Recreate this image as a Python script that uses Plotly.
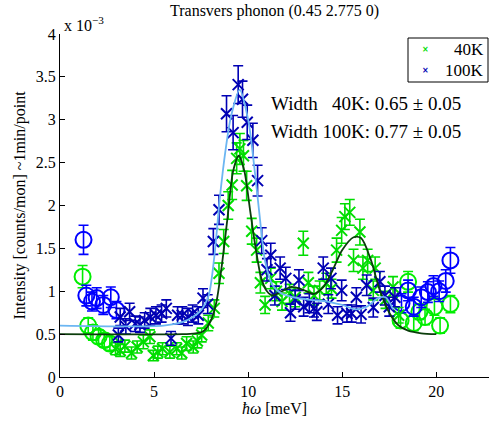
import plotly.graph_objects as go

# ---------------- data (intensity in units of 1e-3) ----------------
# 40K, circles (low and high energy)
g_circ_x = [1.2, 1.5, 1.75, 2.05, 2.35, 2.65, 18.1, 18.5, 18.8, 19.1, 19.4, 19.9, 20.2, 20.75]
g_circ_y = [1.17, 0.60, 0.52, 0.47, 0.43, 0.39, 0.66, 1.11, 0.63, 0.76, 0.70, 0.82, 0.60, 0.85]
g_circ_e = [0.13, 0.09, 0.09, 0.08, 0.08, 0.08, 0.09, 0.12, 0.09, 0.09, 0.09, 0.10, 0.09, 0.10]

# 100K, circles
b_circ_x = [1.25, 1.4, 1.7, 1.95, 2.3, 2.7, 3.0, 18.15, 18.5, 18.8, 19.2, 19.55, 19.85, 20.15, 20.5, 20.75]
b_circ_y = [1.60, 0.95, 0.88, 0.92, 0.84, 0.93, 0.78, 0.86, 1.01, 0.82, 0.93, 0.99, 1.06, 1.00, 1.12, 1.36]
b_circ_e = [0.17, 0.12, 0.11, 0.12, 0.11, 0.12, 0.10, 0.11, 0.12, 0.11, 0.12, 0.12, 0.12, 0.12, 0.13, 0.15]

# 40K, crosses
g_x_x = [2.95, 3.2, 3.45, 3.8, 4.1, 4.43, 4.78, 4.96, 5.2, 5.45, 5.84, 6.2, 6.47, 6.73, 7.08, 7.3,
         7.53, 7.88, 8.2, 8.45, 8.7, 8.94, 9.15, 9.39, 9.56, 9.75, 9.92, 10.19, 10.45, 10.65, 10.9,
         11.2, 11.5, 11.8, 12.2, 12.5, 12.93, 13.2, 13.5, 13.8, 14.15, 14.43, 14.7, 14.97, 15.14,
         15.4, 15.6, 15.94, 16.1, 16.35, 16.65, 16.75, 17.3, 17.7, 18.0]
g_x_y = [0.33, 0.31, 0.36, 0.28, 0.35, 0.41, 0.47, 0.25, 0.29, 0.33, 0.29, 0.33, 0.28, 0.39, 0.35, 0.42,
         0.49, 0.63, 0.80, 1.21, 1.58, 2.00, 2.24, 2.55, 2.66, 2.58, 2.23, 1.70, 1.48, 1.10, 0.84,
         1.15, 1.00, 0.88, 0.97, 0.93, 1.56, 1.10, 0.95, 1.01, 1.09, 1.03, 1.48, 1.71, 1.87,
         1.92, 1.36, 1.69, 1.27, 1.36, 1.01, 1.27, 0.90, 1.05, 0.72]
g_x_e = [0.07, 0.07, 0.07, 0.07, 0.07, 0.08, 0.08, 0.06, 0.07, 0.07, 0.07, 0.07, 0.07, 0.08, 0.07, 0.08,
         0.08, 0.09, 0.10, 0.12, 0.14, 0.16, 0.17, 0.18, 0.18, 0.18, 0.17, 0.15, 0.14, 0.12, 0.10,
         0.12, 0.11, 0.10, 0.11, 0.11, 0.14, 0.12, 0.11, 0.11, 0.12, 0.11, 0.14, 0.15, 0.15,
         0.15, 0.13, 0.15, 0.13, 0.13, 0.11, 0.13, 0.10, 0.12, 0.09]

# 100K, crosses
b_x_x = [3.1, 3.2, 3.5, 3.7, 4.0, 4.25, 4.5, 4.8, 5.1, 5.4, 5.65, 5.9, 6.25, 6.5, 6.8, 7.05, 7.35,
         7.6, 7.85, 8.15, 8.45, 8.85, 9.2, 9.47, 9.7, 9.95, 10.25, 10.5, 10.72, 11.0, 11.2, 11.42,
         11.7, 12.0, 12.25, 12.5, 12.7, 12.95, 13.25, 13.5, 13.65, 13.99, 14.26, 14.4, 14.75, 14.97,
         15.25, 15.5, 15.75, 16.0, 16.3, 16.65, 17.0, 17.27, 17.5, 17.8]
b_x_y = [0.49, 0.70, 0.59, 0.76, 0.62, 0.61, 0.66, 0.70, 0.72, 0.74, 0.80, 0.45, 0.72, 0.72, 0.70, 0.74, 0.72,
         0.92, 0.85, 1.58, 1.95, 3.07, 2.85, 3.41, 3.24, 2.97, 2.76, 2.29, 1.59, 1.25, 1.42, 0.95,
         1.27, 1.15, 0.75, 0.90, 1.13, 0.82, 0.86, 0.80, 0.76, 1.27, 0.85, 1.15, 0.72, 1.01,
         0.74, 0.74, 0.93, 0.73, 1.07, 0.81, 1.11, 0.95, 0.82, 0.93]
b_x_e = [0.08, 0.10, 0.09, 0.10, 0.09, 0.09, 0.09, 0.10, 0.10, 0.10, 0.10, 0.08, 0.10, 0.10, 0.10, 0.10, 0.10,
         0.11, 0.11, 0.15, 0.17, 0.21, 0.20, 0.22, 0.21, 0.20, 0.20, 0.18, 0.15, 0.13, 0.14, 0.11,
         0.13, 0.13, 0.10, 0.11, 0.12, 0.11, 0.11, 0.10, 0.10, 0.13, 0.11, 0.12, 0.10, 0.12,
         0.10, 0.10, 0.11, 0.10, 0.12, 0.11, 0.12, 0.11, 0.11, 0.11]

# fitted curves
fit40_x = [0, 6.5, 7.2, 7.6, 8.0, 8.3, 8.6, 8.9, 9.2, 9.5, 9.8, 10.1, 10.4, 10.7, 11.0, 11.3, 11.8,
           12.3, 12.9, 13.5, 14.0, 14.5, 15.0, 15.6, 16.0, 16.5, 17.0, 17.5, 18.0, 18.5, 19.2, 20.0]
fit40_y = [0.5, 0.5, 0.51, 0.53, 0.65, 0.86, 1.3, 1.85, 2.4, 2.58, 2.4, 1.95, 1.5, 1.15, 1.0, 0.95, 1.0,
           1.05, 1.02, 0.97, 1.05, 1.25, 1.48, 1.63, 1.62, 1.38, 1.01, 0.75, 0.6, 0.54, 0.51, 0.5]
fit100_x = [0, 5.5, 6.5, 7.0, 7.5, 7.9, 8.2, 8.5, 8.8, 9.1, 9.55, 10.0, 10.3, 10.6, 10.9, 11.3, 11.8,
            12.4, 13.3, 14.2, 15.0, 15.7, 16.3, 16.9, 17.3, 17.7]
fit100_y = [0.6, 0.6, 0.64, 0.69, 0.78, 0.95, 1.4, 2.1, 2.65, 3.05, 3.35, 3.0, 2.5, 1.9, 1.35, 1.07, 0.97,
            0.93, 0.9, 0.88, 0.84, 0.79, 0.82, 0.92, 0.93, 0.79]

title_text = "Transvers phonon (0.45 2.775 0)"
x_title = "<i>ħω</i> [meV]"
y_title = "Intensity [counts/mon] ~1min/point"
x_ticks = [0, 5, 10, 15, 20]
y_ticks = [0, 0.5, 1, 1.5, 2, 2.5, 3, 3.5, 4]
y_ticklabels = ["0", "0.5", "1", "1.5", "2", "2.5", "3", "3.5", "4"]
legend_names = ["40K", "100K"]
width_lines = ["Width \u200740K: 0.65 \u00b1 0.05", "Width 100K: 0.77 \u00b1 0.05"]

# ---------------- styles ----------------
GREEN = "#00ee00"
GREEN_X = "#00dd00"
BLUE = "#0000ff"
BLUE_X = "#0000b4"
DKGREEN = "#0b3d0b"
LTBLUE = "#6cb6f2"
FONT = "'Liberation Serif', 'Times New Roman', Times, serif"

fig = go.Figure()


def add_points(x, y, e, color, symbol, size, lw, cap):
    fig.add_trace(go.Scatter(
        x=x, y=y, mode="markers", showlegend=False, cliponaxis=False,
        marker=dict(symbol=symbol, size=size, color=color,
                    line=dict(color=color, width=lw)),
        error_y=dict(type="data", array=e, visible=True, color=color,
                     thickness=1.6, width=cap),
    ))


add_points(g_circ_x, g_circ_y, g_circ_e, GREEN, "circle-open", 16, 2, 5)
add_points(b_circ_x, b_circ_y, b_circ_e, BLUE, "circle-open", 16, 2, 5)
add_points(g_x_x, g_x_y, g_x_e, GREEN_X, "x-thin-open", 11, 2, 5)
add_points(b_x_x, b_x_y, b_x_e, BLUE_X, "x-thin-open", 11, 2, 5)

fig.add_trace(go.Scatter(x=fit40_x, y=fit40_y, mode="lines", showlegend=False,
                         line=dict(color=DKGREEN, width=1.8, shape="spline", smoothing=0.8)))
fig.add_trace(go.Scatter(x=fit100_x, y=fit100_y, mode="lines", showlegend=False,
                         line=dict(color=LTBLUE, width=1.8, shape="spline", smoothing=0.8)))

axis_common = dict(showline=True, linecolor="black", linewidth=1, ticks="inside",
                   ticklen=5, tickcolor="black", showgrid=False, zeroline=False,
                   tickfont=dict(family=FONT, size=16, color="black"))

fig.update_layout(
    width=489, height=421,
    margin=dict(l=60, r=0, t=34, b=44),
    paper_bgcolor="white", plot_bgcolor="white",
    font=dict(family=FONT, size=16, color="black"),
    xaxis=dict(range=[0, 22.8], tickvals=x_ticks, ticktext=[str(v) for v in x_ticks],
               title=dict(text=x_title, font=dict(family=FONT, size=16), standoff=2),
               **axis_common),
    yaxis=dict(range=[0, 4], tickvals=y_ticks, ticktext=y_ticklabels,
               title=dict(text=y_title, font=dict(family=FONT, size=16), standoff=6),
               **axis_common),
    showlegend=False,
)

# ---- legend box (drawn as shape + text) ----
PW, PH, L, B = 429.0, 343.0, 60.0, 377.0


def px2paper(xp, yp):
    return (xp - L) / PW, (B - yp) / PH


x0, y0 = px2paper(408, 82)
x1, y1 = px2paper(488, 38)
fig.add_shape(type="rect", xref="paper", yref="paper", x0=x0, y0=y0, x1=x1, y1=y1,
              line=dict(color="black", width=1), fillcolor="white", layer="above")
for name, col, yp in [(legend_names[0], GREEN_X, 49), (legend_names[1], BLUE_X, 70)]:
    mx, my = px2paper(425, yp)
    tx, _ = px2paper(486, yp)
    fig.add_annotation(text="<b>\u00d7</b>", xref="paper", yref="paper", x=mx, y=my,
                       showarrow=False, font=dict(family="DejaVu Sans", size=8, color=col),
                       xanchor="center", yanchor="middle")
    fig.add_annotation(text=name, xref="paper", yref="paper", x=tx, y=my,
                       showarrow=False, font=dict(family=FONT, size=17, color="black"),
                       xanchor="right", yanchor="middle")

fig.add_annotation(text=title_text, xref="paper", yref="paper", x=0.5, y=1,
                   yshift=12, showarrow=False, font=dict(family=FONT, size=16),
                   xanchor="center", yanchor="bottom")
fig.add_annotation(text="x 10<sup>\u22123</sup>", xref="paper", yref="paper", x=0, y=1,
                   xshift=2, yshift=-2, showarrow=False, font=dict(family=FONT, size=16),
                   xanchor="left", yanchor="bottom")
for txt, yp in [(width_lines[0], 103), (width_lines[1], 131)]:
    ax, ay = px2paper(269, yp)
    fig.add_annotation(text=txt, xref="paper", yref="paper", x=ax, y=ay, showarrow=False,
                       font=dict(family=FONT, size=19), xanchor="left", yanchor="middle")

fig.write_html("out.html")
